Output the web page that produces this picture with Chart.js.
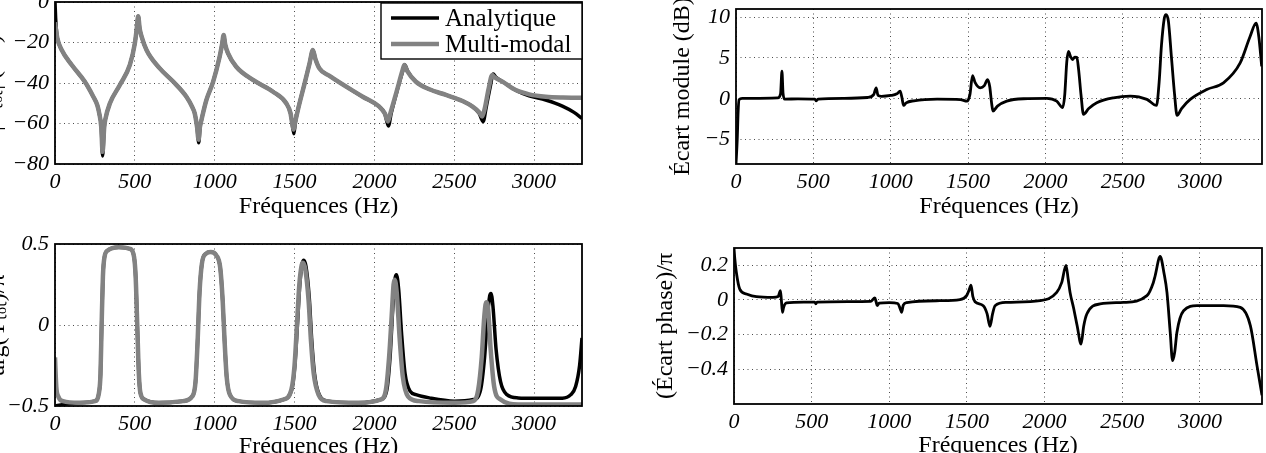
<!DOCTYPE html>
<html>
<head>
<meta charset="utf-8">
<script src="https://cdn.jsdelivr.net/npm/chart.js@4.4.1/dist/chart.umd.min.js"></script>
<style>
  html, body { margin: 0; padding: 0; background: #fff; overflow: hidden; width: 1266px; height: 453px; }
  canvas { position: absolute; }
</style>
</head>
<body>
<canvas id="modChart" width="640" height="225" style="left:-30px;top:0"></canvas>
<canvas id="argChart" width="640" height="240" style="left:-30px;top:225px"></canvas>
<canvas id="modDiffChart" width="626" height="225" style="left:640px;top:0"></canvas>
<canvas id="argDiffChart" width="626" height="240" style="left:640px;top:225px"></canvas>
<script>
// Tick labels
const freqTicks = [0, 500, 1000, 1500, 2000, 2500, 3000];
const modTicks = [-80, -60, -40, -20, 0];
const argTicks = [-0.5, 0, 0.5];
const modDiffTicks = [-5, 0, 5, 10];
const argDiffTicks = [-0.4, -0.2, 0, 0.2];

// Module (dB), [frequency, value]
const modAnalytique = [[0,0],[4,-8],[10,-15],[15,-18],[42,-23.7],[104,-31],[187,-39.4],[240,-46.8],[265,-51],[277,-55],[290,-62],[298,-76],[308,-62],[315,-58],[344,-50],[406,-41],[469,-31],[500,-20.4],[512,-13],[521,-7],[530,-13],[542,-17],[573,-23.7],[656,-32.8],[740,-39.3],[823,-46.8],[860,-52],[875,-55],[890,-62],[900,-69.5],[908,-62],[917,-58.3],[948,-48.4],[990,-39.4],[1031,-27],[1046,-21],[1056,-16.3],[1066,-21],[1083,-25.3],[1135,-32],[1240,-38.5],[1365,-44.3],[1448,-50],[1475,-55],[1485,-59.9],[1496,-65],[1504,-60],[1521,-53.3],[1563,-40.2],[1594,-30.3],[1615,-23.7],[1630,-28],[1656,-32.8],[1719,-36.5],[1927,-46.8],[2031,-51.7],[2065,-55],[2088,-61.2],[2105,-55],[2145,-43],[2178,-34],[2190,-31],[2207,-34],[2260,-39.4],[2344,-43.1],[2448,-45.9],[2552,-48.9],[2615,-51.7],[2656,-55],[2681,-59.1],[2700,-52],[2725,-42],[2744,-35.6],[2760,-37],[2802,-39.3],[2885,-43.5],[2969,-46.3],[3073,-48.4],[3177,-51.4],[3250,-54.5],[3300,-57.5]];
const modMultiModal = [[0,-10],[15,-18],[42,-23.7],[104,-31],[187,-39.4],[240,-46.8],[265,-51],[277,-55],[290,-62],[298,-74],[308,-62],[315,-58],[344,-50],[406,-41],[469,-31],[500,-20.4],[512,-13],[521,-7],[530,-13],[542,-17],[573,-23.7],[656,-32.8],[740,-39.3],[823,-46.8],[860,-52],[875,-55],[890,-62],[899,-68],[907,-62],[917,-58.3],[948,-48.4],[990,-39.4],[1031,-27],[1046,-21],[1056,-16.3],[1066,-21],[1083,-25.3],[1135,-32],[1240,-38.5],[1365,-44.3],[1448,-50],[1475,-55],[1485,-59.9],[1494,-63],[1502,-60],[1521,-53.3],[1563,-40.2],[1594,-30.3],[1615,-23.7],[1630,-28],[1656,-32.8],[1719,-36.5],[1927,-46.8],[2031,-51.7],[2065,-55],[2085,-59],[2100,-55],[2140,-44],[2175,-34],[2188,-31.1],[2205,-34],[2260,-39.4],[2344,-43.1],[2448,-45.9],[2552,-48.9],[2615,-51.7],[2656,-54.5],[2675,-56.5],[2690,-53],[2715,-43],[2738,-36],[2750,-37],[2802,-39.3],[2885,-43.5],[2969,-45.6],[3073,-46.8],[3180,-47.2],[3300,-47.3]];

// Phase / pi
const argAnalytique = [[0,-0.5],[50,-0.49],[150,-0.48],[250,-0.47],[275,-0.42],[285,-0.3],[292,0],[300,0.3],[310,0.42],[330,0.46],[400,0.48],[470,0.47],[495,0.42],[505,0.3],[515,0],[525,-0.3],[535,-0.42],[560,-0.46],[650,-0.48],[800,-0.47],[860,-0.44],[880,-0.35],[893,-0.1],[905,0.2],[920,0.38],[945,0.44],[975,0.45],[1010,0.43],[1035,0.35],[1050,0.15],[1062,-0.1],[1075,-0.32],[1095,-0.43],[1150,-0.47],[1300,-0.48],[1430,-0.46],[1482,-0.4],[1502,-0.25],[1518,0],[1533,0.25],[1548,0.38],[1558,0.4],[1572,0.36],[1592,0.17],[1608,-0.1],[1625,-0.3],[1655,-0.43],[1710,-0.47],[1900,-0.48],[2040,-0.46],[2078,-0.4],[2098,-0.2],[2115,0.1],[2130,0.29],[2138,0.31],[2152,0.22],[2170,-0.05],[2192,-0.3],[2225,-0.41],[2260,-0.43],[2344,-0.45],[2500,-0.47],[2620,-0.46],[2665,-0.4],[2690,-0.2],[2708,0.05],[2722,0.18],[2730,0.195],[2742,0.12],[2762,-0.15],[2790,-0.35],[2830,-0.43],[2900,-0.45],[3000,-0.452],[3177,-0.452],[3230,-0.43],[3260,-0.38],[3285,-0.25],[3300,-0.08]];
const argMultiModal = [[0,-0.2],[8,-0.38],[20,-0.44],[50,-0.47],[150,-0.48],[250,-0.47],[275,-0.42],[285,-0.3],[292,0],[300,0.3],[310,0.42],[330,0.46],[400,0.48],[470,0.47],[495,0.42],[505,0.3],[515,0],[525,-0.3],[535,-0.42],[560,-0.46],[650,-0.48],[800,-0.47],[860,-0.44],[880,-0.35],[893,-0.1],[905,0.2],[920,0.38],[945,0.44],[975,0.45],[1010,0.43],[1035,0.35],[1050,0.15],[1062,-0.1],[1075,-0.32],[1095,-0.43],[1150,-0.47],[1300,-0.48],[1430,-0.46],[1480,-0.4],[1500,-0.25],[1515,0],[1530,0.25],[1545,0.37],[1553,0.385],[1568,0.34],[1588,0.15],[1603,-0.1],[1620,-0.3],[1650,-0.43],[1700,-0.47],[1900,-0.48],[2040,-0.46],[2072,-0.4],[2092,-0.2],[2108,0.05],[2120,0.25],[2127,0.28],[2140,0.2],[2158,-0.08],[2178,-0.32],[2210,-0.44],[2280,-0.47],[2500,-0.48],[2620,-0.47],[2650,-0.4],[2672,-0.2],[2688,0.05],[2700,0.14],[2712,0.1],[2728,-0.15],[2750,-0.38],[2790,-0.46],[2900,-0.49],[3300,-0.49]];

// Ecart module (dB)
const modDiff = [[0,-8],[8,-5],[14,-1.5],[20,-0.1],[40,0.05],[150,0.05],[270,0.1],[288,0.6],[297,3.37],[304,0.7],[315,-0.05],[400,-0.02],[510,-0.05],[519,-0.25],[530,-0.05],[700,0.05],[850,0.15],[890,0.5],[906,1.34],[918,0.4],[940,0.3],[1000,0.4],[1040,0.6],[1061,0.93],[1072,0.2],[1083,-0.82],[1100,-0.5],[1150,-0.25],[1300,-0.05],[1450,-0.1],[1493,-0.3],[1512,0.5],[1529,2.84],[1545,2],[1578,1.34],[1605,1.6],[1626,2.35],[1640,1.5],[1652,-0.5],[1661,-1.51],[1690,-0.9],[1750,-0.29],[1858,0],[2009,0.04],[2073,-0.3],[2112,-1.1],[2125,0.5],[2138,4.5],[2149,5.8],[2162,5.2],[2175,4.8],[2190,5.1],[2203,5.07],[2215,3.5],[2230,0.5],[2246,-1.91],[2280,-1.2],[2332,-0.49],[2440,0.12],[2548,0.32],[2656,-0.08],[2718,-0.82],[2735,2],[2750,6.5],[2768,9.8],[2780,10.3],[2795,9.5],[2815,5],[2835,0.5],[2851,-2.04],[2880,-1.2],[2936,-0.08],[3043,1.13],[3151,1.95],[3259,4.39],[3323,7.63],[3362,9.27],[3380,7.5],[3398,3.98]];

// Ecart phase / pi
const argDiff = [[0,0.3],[5,0.24],[15,0.16],[37,0.063],[80,0.035],[144,0.019],[251,0.015],[284,0.02],[299,0.054],[305,0],[312,-0.071],[320,-0.04],[338,-0.017],[450,-0.012],[520,-0.012],[527,-0.022],[535,-0.012],[880,-0.008],[907,0.012],[915,-0.01],[922,-0.033],[935,-0.018],[1000,-0.015],[1055,-0.02],[1070,-0.05],[1079,-0.071],[1090,-0.03],[1113,-0.015],[1326,-0.004],[1455,0.002],[1498,0.025],[1515,0.06],[1526,0.086],[1538,0.02],[1552,-0.01],[1605,-0.033],[1630,-0.08],[1648,-0.152],[1665,-0.08],[1681,-0.033],[1756,-0.014],[1971,-0.004],[2078,0.044],[2110,0.1],[2138,0.2],[2152,0.12],[2164,0.044],[2186,-0.043],[2210,-0.15],[2235,-0.254],[2252,-0.15],[2272,-0.081],[2358,-0.023],[2508,-0.014],[2659,0.025],[2700,0.1],[2712,0.14],[2744,0.251],[2770,0.15],[2788,0.044],[2809,-0.187],[2824,-0.35],[2838,-0.3],[2852,-0.187],[2895,-0.062],[2981,-0.033],[3153,-0.033],[3260,-0.043],[3325,-0.148],[3368,-0.38],[3400,-0.55]];

const serif = "'Liberation Serif', 'Times New Roman', serif";
const tickFont = { family: serif, size: 22, style: 'italic' };
const titleFont = { family: serif, size: 24 };
const gridColor = 'rgba(0,0,0,0.7)';
const grayLine = '#828282';

// Turn [f, v] pairs into chart points
function toPoints(pairs) {
  return pairs.map(p => ({ x: p[0], y: p[1] }));
}

// Unicode minus for negative labels
function formatTick(value) {
  return String(value).replace('-', '\u2212');
}

function xAxis(max, height, titlePad) {
  return {
    type: 'linear',
    min: 0,
    max: max,
    afterBuildTicks: s => { s.ticks = freqTicks.map(v => ({ value: v })); },
    afterFit: s => { s.height = height; s.paddingLeft = 0; s.paddingRight = 0; },
    grid: { color: gridColor, lineWidth: 1, drawTicks: false },
    border: { display: false, dash: [1, 3.5] },
    ticks: { font: tickFont, color: '#000', padding: 5, maxRotation: 0, callback: formatTick },
    title: { display: true, text: 'Fréquences (Hz)', font: titleFont, color: '#000', padding: { top: 0, bottom: titlePad } }
  };
}

function yAxis(min, max, ticks, width, title, titlePad) {
  return {
    type: 'linear',
    min: min,
    max: max,
    afterBuildTicks: s => { s.ticks = ticks.map(v => ({ value: v })); },
    afterFit: s => { s.width = width; s.paddingTop = 0; s.paddingBottom = 0; },
    grid: { color: gridColor, lineWidth: 1, drawTicks: false },
    border: { display: false, dash: [1, 3.5] },
    ticks: { font: tickFont, color: '#000', padding: 6, callback: formatTick },
    title: { display: true, text: title, font: titleFont, color: '#000', padding: { top: titlePad, bottom: 0 } }
  };
}

// Black frame round the plot area
const framePlugin = {
  id: 'frame',
  afterDatasetsDraw(chart) {
    const a = chart.chartArea;
    const ctx = chart.ctx;
    ctx.save();
    ctx.strokeStyle = '#000';
    ctx.lineWidth = 1.8;
    ctx.strokeRect(a.left, a.top, a.right - a.left, a.bottom - a.top);
    ctx.restore();
  }
};

// Boxed legend in the top right corner of the plot
const boxLegendPlugin = {
  id: 'boxLegend',
  afterDraw(chart) {
    const a = chart.chartArea;
    const ctx = chart.ctx;
    const w = 201, h = 56;
    const left = a.right - w, top = a.top + 1;
    ctx.save();
    ctx.fillStyle = '#fff';
    ctx.fillRect(left, top, w, h);
    ctx.strokeStyle = '#000';
    ctx.lineWidth = 1.4;
    ctx.strokeRect(left, top, w, h);
    ctx.font = '25px ' + serif;
    ctx.textBaseline = 'middle';
    chart.data.datasets.forEach((ds, i) => {
      const y = top + 15 + i * 26;
      ctx.strokeStyle = ds.borderColor;
      ctx.lineWidth = ds.borderWidth;
      ctx.beginPath();
      ctx.moveTo(left + 10, y);
      ctx.lineTo(left + 58, y);
      ctx.stroke();
      ctx.fillStyle = '#000';
      ctx.fillText(ds.label, left + 64, y + 1);
    });
    ctx.restore();
  }
};

function baseOptions(padding, scales) {
  return {
    responsive: false,
    animation: false,
    layout: { padding: padding },
    elements: { point: { radius: 0 }, line: { cubicInterpolationMode: 'monotone' } },
    plugins: { legend: { display: false }, tooltip: { enabled: false } },
    scales: scales
  };
}

function pairDatasets(ana, multi) {
  return [
    { label: 'Analytique', data: toPoints(ana), borderColor: '#000', borderWidth: 3.5, order: 1 },
    { label: 'Multi-modal', data: toPoints(multi), borderColor: grayLine, borderWidth: 4.5, order: 0 }
  ];
}

new Chart(document.getElementById('modChart'), {
  type: 'line',
  data: { datasets: pairDatasets(modAnalytique, modMultiModal) },
  options: baseOptions({ left: 0, top: 2, right: 28, bottom: 0 }, {
    x: xAxis(3300, 61, 4),
    y: yAxis(-80, 0, modTicks, 85, '|Yₜₒₜ| (dB)', 9)
  }),
  plugins: [framePlugin, boxLegendPlugin]
});

new Chart(document.getElementById('argChart'), {
  type: 'line',
  data: { datasets: pairDatasets(argAnalytique, argMultiModal) },
  options: baseOptions({ left: 0, top: 19, right: 28, bottom: 0 }, {
    x: xAxis(3300, 59, 4),
    y: yAxis(-0.5, 0.5, argTicks, 85, 'arg(Yₜₒₜ)/π', 13)
  }),
  plugins: [framePlugin]
});

new Chart(document.getElementById('modDiffChart'), {
  type: 'line',
  data: { datasets: [{ label: 'Écart module', data: toPoints(modDiff), borderColor: '#000', borderWidth: 2.8 }] },
  options: baseOptions({ left: 0, top: 9, right: 4, bottom: 0 }, {
    x: xAxis(3400, 61, 4),
    y: yAxis(-8, 11, modDiffTicks, 96, 'Écart module (dB)', 28)
  }),
  plugins: [framePlugin]
});

new Chart(document.getElementById('argDiffChart'), {
  type: 'line',
  data: { datasets: [{ label: 'Écart phase', data: toPoints(argDiff), borderColor: '#000', borderWidth: 2.8 }] },
  options: baseOptions({ left: 0, top: 23, right: 4, bottom: 0 }, {
    x: xAxis(3400, 61, 4.5),
    y: yAxis(-0.6, 0.3, argDiffTicks, 94, '(Écart phase)/π', 11)
  }),
  plugins: [framePlugin]
});
</script>
</body>
</html>
